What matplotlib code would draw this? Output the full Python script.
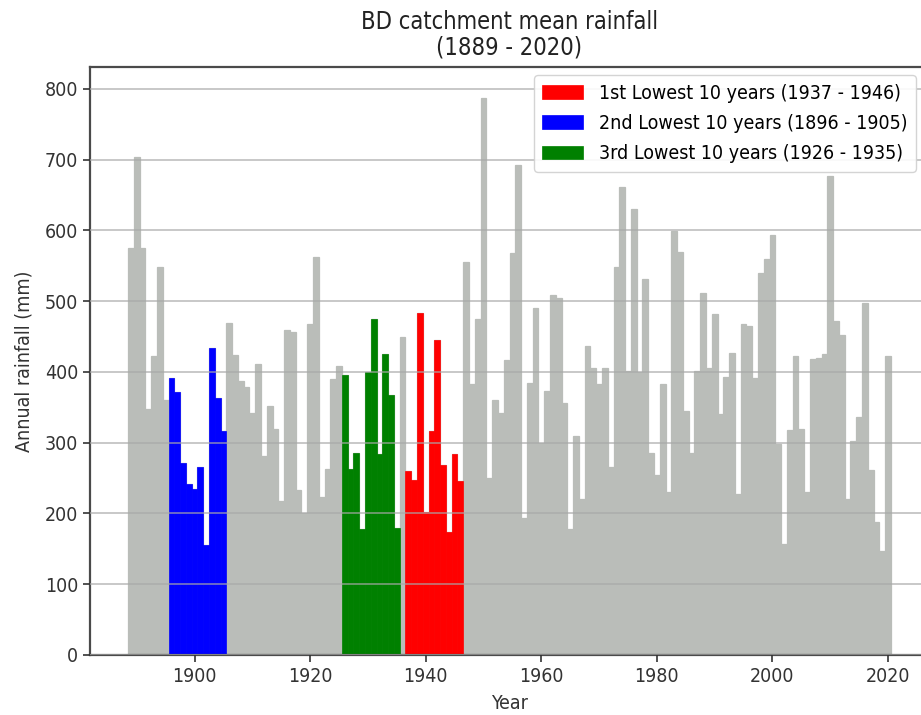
import matplotlib
matplotlib.use("Agg")
import matplotlib.pyplot as plt
import numpy as np

plt.rcParams['font.family'] = ['DejaVu Sans']
plt.rcParams['font.stretch'] = 'condensed'

years = np.arange(1889, 2021)
rainfall = [
    575, 704, 575, 348, 423, 548, 360, 392, 372, 271,   # 1889-1898
    241, 234, 266, 155, 434, 363, 316, 469, 424, 387,   # 1899-1908
    379, 342, 411, 281, 352, 319, 218, 460, 456, 233,   # 1909-1918
    201, 468, 562, 223, 263, 390, 409, 396, 263, 285,   # 1919-1928
    178, 400, 475, 284, 426, 368, 180, 450, 260, 248,   # 1929-1938
    483, 202, 317, 445, 268, 174, 284, 246, 555, 383,   # 1939-1948
    475, 787, 250, 360, 342, 417, 568, 692, 194, 385,   # 1949-1958
    491, 300, 373, 509, 505, 356, 178, 309, 221, 436,   # 1959-1968
    406, 383, 406, 266, 548, 661, 402, 630, 400, 531,   # 1969-1978
    286, 255, 383, 230, 599, 570, 345, 285, 402, 512,   # 1979-1988
    406, 482, 341, 393, 427, 228, 468, 465, 391, 540,   # 1989-1998
    559, 593, 298, 157, 318, 422, 319, 230, 419, 420,   # 1999-2008
    425, 677, 472, 452, 221, 303, 337, 498, 262, 188,   # 2009-2018
    147, 423,                                           # 2019-2020
]
rainfall = np.array(rainfall)

periods = [(1937, 1946), (1896, 1905), (1926, 1935)]
period_names = ['1st Lowest 10 years', '2nd Lowest 10 years', '3rd Lowest 10 years']
period_colors = ['#ff0000', '#0000ff', '#008000']

fig = plt.figure(figsize=(9.21, 7.15), dpi=100)
ax = fig.add_axes([90 / 921, 60 / 715, 839 / 921, 588 / 715])

# grey for every year, then the three driest decades on top
ax.bar(years, rainfall, width=1.0, color='#babdb9', edgecolor='#babdb9', linewidth=0.9)
for (start, end), name, col in zip(periods, period_names, period_colors):
    m = (years >= start) & (years <= end)
    ax.bar(years[m], rainfall[m], width=1.0, color=col, edgecolor=col, linewidth=0.5,
           label=f'{name} ({start} - {end})')

ax.set_xlim(1881.9, 2027.1)
ax.set_ylim(0, 831)
ax.set_xticks([1900, 1920, 1940, 1960, 1980, 2000, 2020])
ax.set_yticks(range(0, 801, 100))
ax.set_axisbelow(False)
ax.yaxis.grid(True, color='#a8a8a8', linewidth=1.1, alpha=0.8)

for s in ax.spines.values():
    s.set_color('#4a4a4a')
    s.set_linewidth(1.6)
ax.tick_params(labelsize=14, colors='#333333', length=5, width=1.2)

ax.set_title('BD catchment mean rainfall\n(1889 - 2020)', fontsize=17,
             color='#222222', pad=9, linespacing=1.1)
ax.set_xlabel('Year', fontsize=14, color='#333333', labelpad=6)
ax.set_ylabel('Annual rainfall (mm)', fontsize=14, color='#333333', labelpad=8)

ax.legend(loc='upper right', bbox_to_anchor=(916 / 921, (715 - 75) / 715),
          bbox_transform=fig.transFigure, borderaxespad=0, fontsize=14,
          handlelength=2.1, labelspacing=0.58, borderpad=0.45, framealpha=0.9,
          edgecolor='#d0d0d0')

fig.savefig('out.png', dpi=100)
